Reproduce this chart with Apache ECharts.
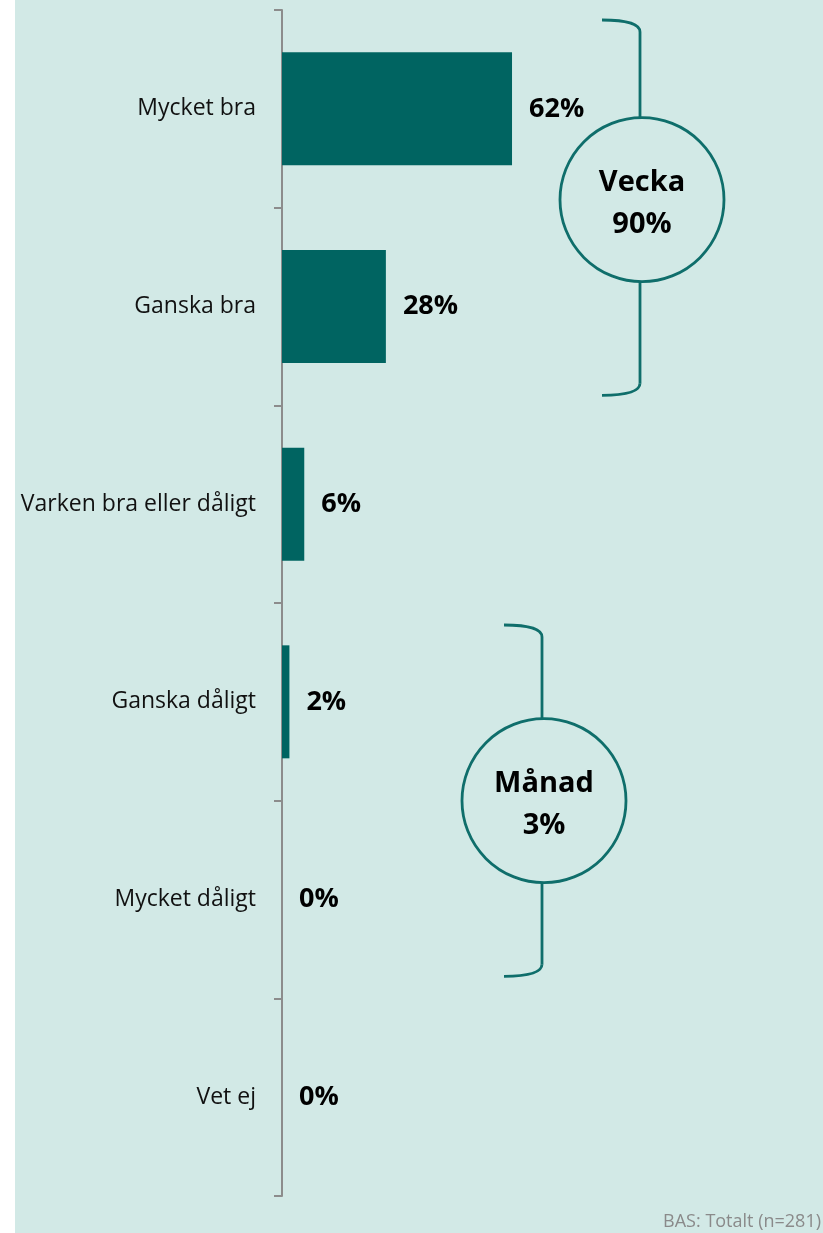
<!DOCTYPE html>
<html>
<head>
<meta charset="utf-8">
<script src="https://cdn.jsdelivr.net/npm/echarts@6/dist/echarts.min.js"></script>
<style>
  html, body { margin: 0; padding: 0; background: #fff; }
  #bg { position: absolute; left: 15px; top: 0; width: 808px; height: 1233px; background: #d2e9e6; }
  #main { position: absolute; left: 0; top: 0; width: 823px; height: 1233px; }
</style>
</head>
<body>
<div id="bg"></div>
<div id="main"></div>
<script>
// svarsalternativ och andelar (%)
const categories = ['Mycket bra', 'Ganska bra', 'Varken bra eller dåligt', 'Ganska dåligt', 'Mycket dåligt', 'Vet ej']
const values = [62, 28, 6, 2, 0, 0]

// sammanfattande grupper (klammer + cirkel)
const groupNames = ['Vecka', 'Månad']
const groupTotals = ['90%', '3%']
const groupFirst = [0, 3]
const groupLast = [1, 4]

const footnote = 'BAS: Totalt (n=281)'

const teal = '#006461'
const lineTeal = '#0f6e6b'
const font = '"Open Sans", "Noto Sans", sans-serif'

const chart = echarts.init(document.getElementById('main'), null, { renderer: 'canvas' })

chart.setOption({
  animation: false,
  backgroundColor: 'transparent',
  textStyle: { fontFamily: font },
  grid: { left: 282, right: 170, top: 10, bottom: 37 },
  xAxis: {
    type: 'value',
    min: 0,
    max: 100,
    show: false
  },
  yAxis: {
    type: 'category',
    inverse: true,
    data: categories,
    axisLine: { show: true, lineStyle: { color: '#8c8c8c', width: 2 } },
    axisTick: { show: true, length: 8, lineStyle: { color: '#8c8c8c', width: 2 } },
    axisLabel: { color: '#111', fontSize: 23, margin: 26, fontFamily: font }
  },
  series: [{
    type: 'bar',
    data: values,
    barWidth: 113,
    itemStyle: { color: teal },
    label: {
      show: true,
      position: 'right',
      distance: 17,
      formatter: '{c}%',
      color: '#000',
      fontSize: 27,
      fontWeight: 'bold',
      fontFamily: font
    }
  }]
})

// klammer + cirkel per grupp, y-läge från kategoriaxeln
const groupX = [640, 542]
const radius = 82
const hook = 38
const inset = [10, 22]
const shiftY = [-8, 0]
const graphics = []
const yOf = c => chart.convertToPixel({ yAxisIndex: 0 }, c)
const half = (yOf(categories[1]) - yOf(categories[0])) / 2

groupNames.forEach((name, i) => {
  const x = groupX[i]
  const top = yOf(categories[groupFirst[i]]) - half + inset[i]
  const bottom = yOf(categories[groupLast[i]]) + half - inset[i]
  const cy = (top + bottom) / 2 + shiftY[i]
  const style = { stroke: lineTeal, lineWidth: 2.8, fill: null }
  // övre hake
  graphics.push({ type: 'bezierCurve', shape: { x1: x - hook, y1: top, cpx1: x, cpy1: top, x2: x, y2: top + 12 }, style })
  graphics.push({ type: 'line', shape: { x1: x, y1: top + 12, x2: x, y2: cy - radius }, style })
  // nedre hake
  graphics.push({ type: 'line', shape: { x1: x, y1: cy + radius, x2: x, y2: bottom - 12 }, style })
  graphics.push({ type: 'bezierCurve', shape: { x1: x, y1: bottom - 12, cpx1: x, cpy1: bottom, x2: x - hook, y2: bottom }, style })
  graphics.push({ type: 'circle', shape: { cx: x + 2, cy, r: radius }, style })
  graphics.push({
    type: 'text',
    x: x + 2,
    y: cy + 4,
    style: {
      text: name + '\n' + groupTotals[i],
      align: 'center',
      verticalAlign: 'middle',
      font: `bold 29px ${font}`,
      lineHeight: 42,
      fill: '#000'
    }
  })
})

graphics.push({
  type: 'text',
  right: 2,
  bottom: 2,
  style: { text: footnote, font: `18px ${font}`, fill: '#8a8a8a' }
})

chart.setOption({ graphic: graphics })
</script>
</body>
</html>
